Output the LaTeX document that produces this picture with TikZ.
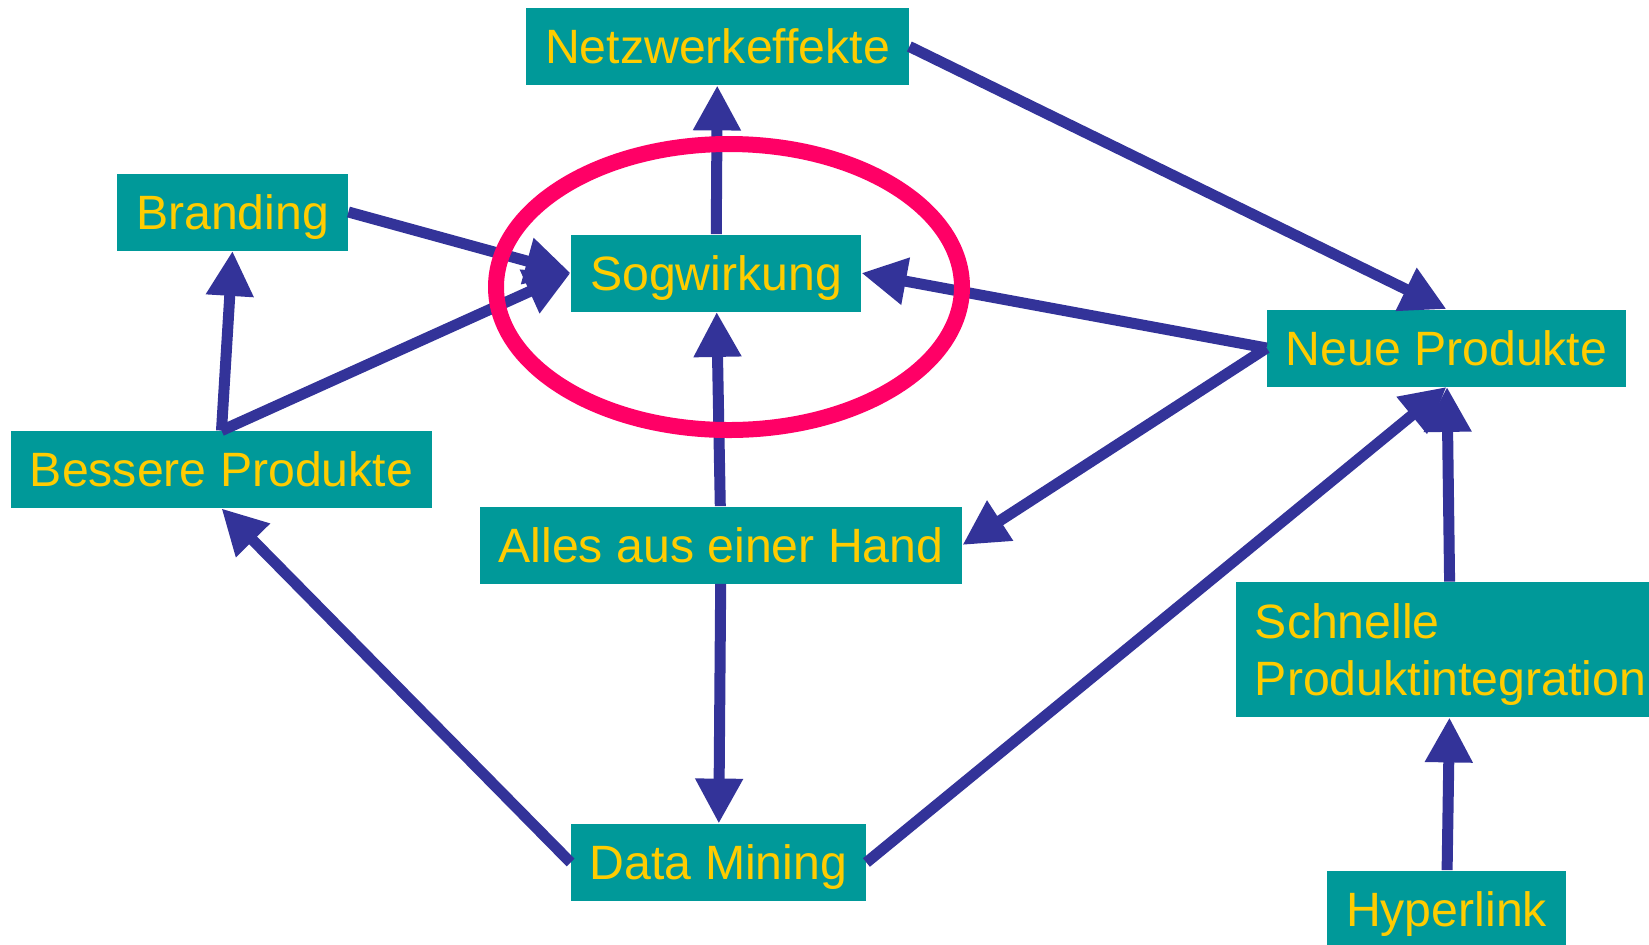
\documentclass[tikz,border=0pt]{standalone}
\usepackage{fontspec}
\setmainfont{Liberation Sans}
\usetikzlibrary{arrows.meta}
\definecolor{boxteal}{HTML}{009999}
\definecolor{textgold}{HTML}{FFCC00}
\definecolor{linkblue}{HTML}{333399}
\definecolor{ringpink}{HTML}{FF0066}

\begin{document}
\begin{tikzpicture}[x=0.5pt,y=-0.5pt,>={Triangle[length=22.5pt,width=22.5pt]},
  card/.style={fill=boxteal,text=textgold,font=\fontsize{24.1}{28.5}\selectfont,inner sep=0pt,minimum height=38.5pt,text depth=0pt},
  box/.style={card,text height=17.2pt},
  link/.style={draw=linkblue,line width=5.5pt,->},
  ring/.style={draw=ringpink,line width=8pt}]
\useasboundingbox (0,0) rectangle (1649,944);
\node[box,minimum width=191.5pt] (netz) at (717.5,46.5) {Netzwerkeffekte};
\node[box,minimum width=115.5pt] (brand) at (232.5,212) {Branding};
\node[box,minimum width=145pt] (sog) at (716,273) {Sogwirkung};
\node[box,minimum width=210.5pt] (besser) at (221.5,469.5) {Bessere Produkte};
\node[box,minimum width=179.5pt] (neue) at (1446.5,348) {Neue Produkte};
\node[box,minimum width=241pt] (alles) at (721,545) {Alles aus einer Hand};
\node[box,minimum width=147.5pt] (data) at (718.5,862.5) {Data Mining};
\node[card,align=left,minimum width=214.5pt,minimum height=67.5pt] (schnell) at (1450.5,649.5) {Schnelle\\Produktintegration};
\node[box,minimum width=119.5pt] (hyper) at (1446.5,909) {Hyperlink};
\draw[link] (sog) -- (netz);
\draw[link] (netz.east) -- (neue.north);
\draw[link] (brand.east) -- (sog.west);
\draw[link] (besser.north) -- (sog.west);
\draw[link] (besser.north) -- (brand.south);
\draw[link] (neue.west) -- (sog.east);
\draw[link] (neue.west) -- (alles.east);
\draw[link] (alles) -- (sog);
\draw[link] (alles) -- (data);
\draw[link] (data.west) -- (besser.south);
\draw[link] (data.east) -- (neue.south);
\draw[link] (schnell) -- (neue);
\draw[link] (hyper) -- (schnell);
\draw[ring] (729,287) ellipse [x radius=116.5pt, y radius=71.5pt];
\end{tikzpicture}
\end{document}
